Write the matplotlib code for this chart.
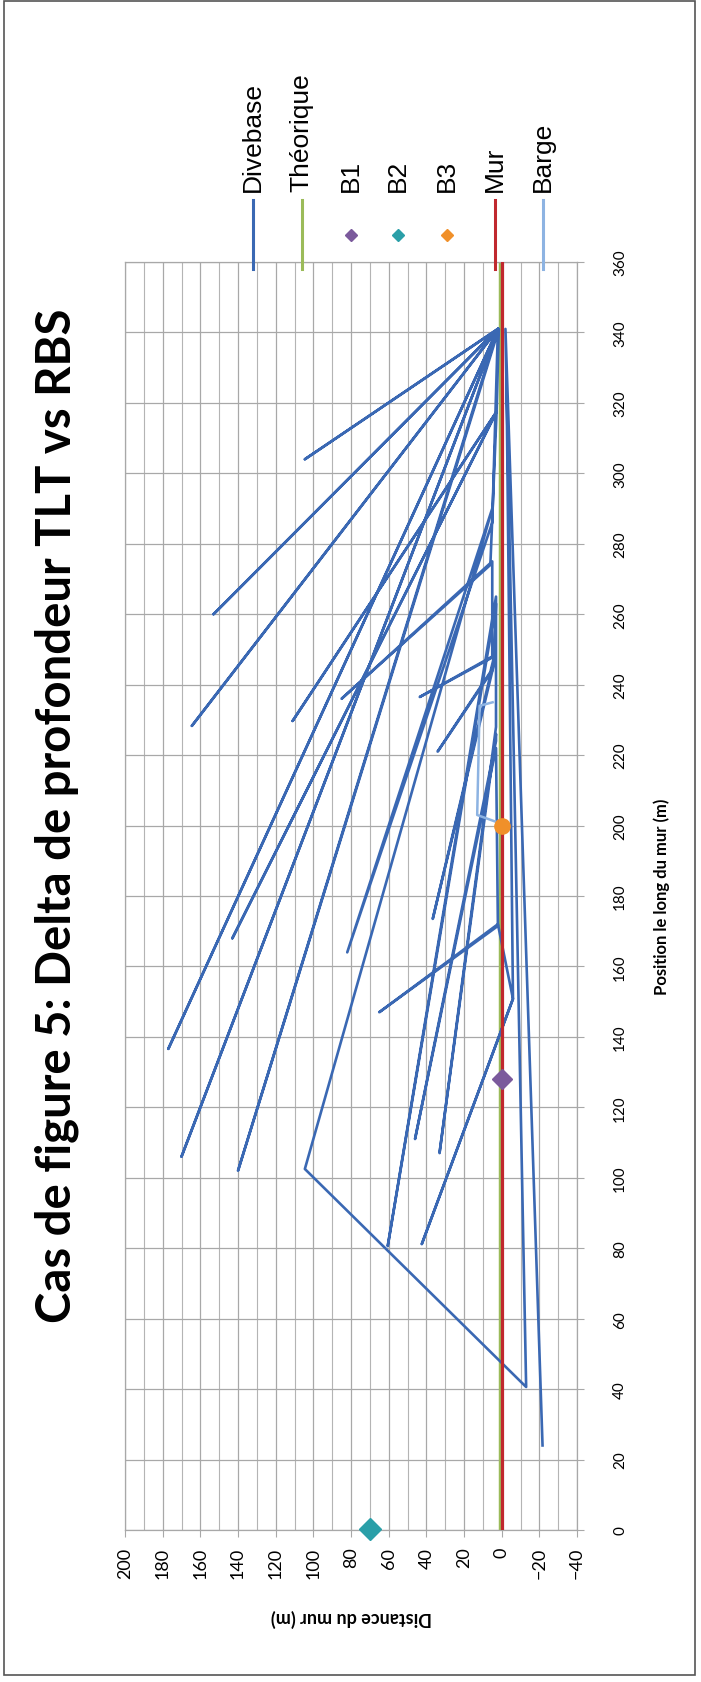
import matplotlib
matplotlib.use("Agg")
import matplotlib.pyplot as plt
from matplotlib.lines import Line2D
from matplotlib.patches import Rectangle
from matplotlib.ticker import MultipleLocator

# Divebase track: position along the wall (m) and distance from the wall (m)
div_pos = [24, 341, 40.6, 102.5, 290, 164, 286, 341, 304, 341, 260, 341, 228.3, 341,
           136.6, 341, 106, 341, 102, 341, 317.5, 168, 317.5, 229.7, 317.5, 274, 236,
           275, 248, 236.5, 248, 243.6, 221, 244, 245, 173.5, 246, 263, 80.6, 265, 228,
           107, 226, 224, 111, 222, 171.5, 147, 172, 150.8, 81.2, 150.8, 330]
div_dist = [-21.7, -2, -13, 104.5, 5, 82, 5, 2, 104.5, 2, 153, 2, 164.5, 2,
            177, 2, 170, 2, 140, 1.5, 2.7, 143, 2.7, 111, 2.7, 6, 85,
            5, 5, 43.5, 4, 6, 34, 5, 5, 36.6, 4, 3, 60.5, 3, 3,
            33, 3, 3, 46, 3, 2, 65, 2, -6, 42.4, -6, -2.5]

theo_pos = [0, 360]
theo_dist = [0.8, 0.8]

b1_pos, b1_dist = [128], [0]
b2_pos, b2_dist = [0.3], [70]
b3_pos, b3_dist = [200], [0]

mur_pos = [0, 360]
mur_dist = [0, 0]

barge_pos = [235, 234, 203, 201]
barge_dist = [4.8, 11.7, 13, 2.7]

series_names = ["Divebase", "Théorique", "B1", "B2", "B3", "Mur", "Barge"]
colors = {"Divebase": "#3a68b3", "Théorique": "#9bbb59", "B1": "#7b5a9c",
          "B2": "#2a9fa8", "B3": "#f0902a", "Mur": "#c0282e", "Barge": "#8db3e2"}

dist_ticks = list(range(-40, 201, 20))
pos_ticks = list(range(0, 361, 20))

W, H = 701, 1683
fig = plt.figure(figsize=(W / 100, H / 100), dpi=100)


def fx(px):
    return px / W


def fy(py):
    return 1 - py / H


# plot area (the chart is turned by a quarter: position runs upward)
ax = fig.add_axes([fx(125), fy(1531), fx(577) - fx(125), fy(263) - fy(1531)])
ax.set_xlim(200, -40)
ax.set_ylim(0, 360)

ax.set_xticks(dist_ticks)
ax.xaxis.set_minor_locator(MultipleLocator(10))
ax.set_yticks(pos_ticks)
ax.grid(True, which="major", axis="both", color="#a8a8a8", lw=0.9)
ax.grid(True, which="minor", axis="x", color="#b4b4b4", lw=0.8)
ax.set_axisbelow(True)
for s in ax.spines.values():
    s.set_color("#a8a8a8")
    s.set_linewidth(0.9)

ax.tick_params(axis="x", which="major", labelrotation=90, labelsize=13,
               length=5, color="#a8a8a8", pad=7)
ax.tick_params(axis="x", which="minor", length=0)
ax.tick_params(axis="y", which="major", labelrotation=90, labelsize=11,
               length=5, color="#a8a8a8", left=False, right=True,
               labelleft=False, labelright=True, pad=26)
for lab in ax.get_xticklabels() + ax.get_yticklabels():
    lab.set_fontfamily("Lato")
for lab in ax.get_yticklabels():
    lab.set_va("center")
    lab.set_ha("center")

ax.set_xlabel("Distance du mur (m)", rotation=180, fontsize=13,
              fontweight="bold", family="Lato", va="center", ha="center")
ax.xaxis.set_label_coords(0.5, -(1618 - 1531) / 1268)
ax.yaxis.set_label_position("right")
ax.set_ylabel("Position le long du mur (m)", rotation=90, fontsize=12,
              fontweight="bold", family="Lato", va="center", ha="center")
ax.yaxis.set_label_coords((662 - 125) / 452, 0.5)

# series
ax.plot(theo_dist, theo_pos, color=colors["Théorique"], lw=2.5, zorder=2)
ax.plot(div_dist, div_pos, color=colors["Divebase"], lw=1.9, zorder=3)
ax.plot(barge_dist, barge_pos, color=colors["Barge"], lw=1.8, zorder=4)
ax.plot(mur_dist, mur_pos, color=colors["Mur"], lw=2.3, zorder=5)
ax.plot(b1_dist, b1_pos, "D", color=colors["B1"], ms=10, zorder=6)
ax.plot(b2_dist, b2_pos, "D", color=colors["B2"], ms=11, zorder=6, clip_on=False)
ax.plot(b3_dist, b3_pos, "o", color=colors["B3"], ms=11, zorder=6)

# title
fig.text(fx(57), fy(816), "Cas de figure 5: Delta de profondeur TLT vs RBS",
         rotation=90, ha="center", va="center", fontsize=34,
         fontweight="bold", family="Lato")

# legend, laid out across the top like the turned chart
leg_x = [252.6, 301.7, 351, 398, 447, 495, 543]
for name, x in zip(series_names, leg_x):
    if name in ("B1", "B2", "B3"):
        fig.add_artist(Line2D([fx(x)], [fy(236)], marker="D", ms=6,
                              color=colors[name], lw=0))
    else:
        fig.add_artist(Line2D([fx(x), fx(x)], [fy(201), fy(270)],
                              color=colors[name], lw=2.2))
    fig.text(fx(x), fy(192), name, rotation=90, rotation_mode="anchor",
             ha="left", va="center", fontsize=19, family="Liberation Sans")

# outer frame of the chart
fig.add_artist(Rectangle((fx(4), fy(1676)), fx(695) - fx(4), fy(2) - fy(1676),
                         fill=False, edgecolor="#555555", lw=1.2,
                         transform=fig.transFigure))

fig.savefig("out.png", dpi=100)
